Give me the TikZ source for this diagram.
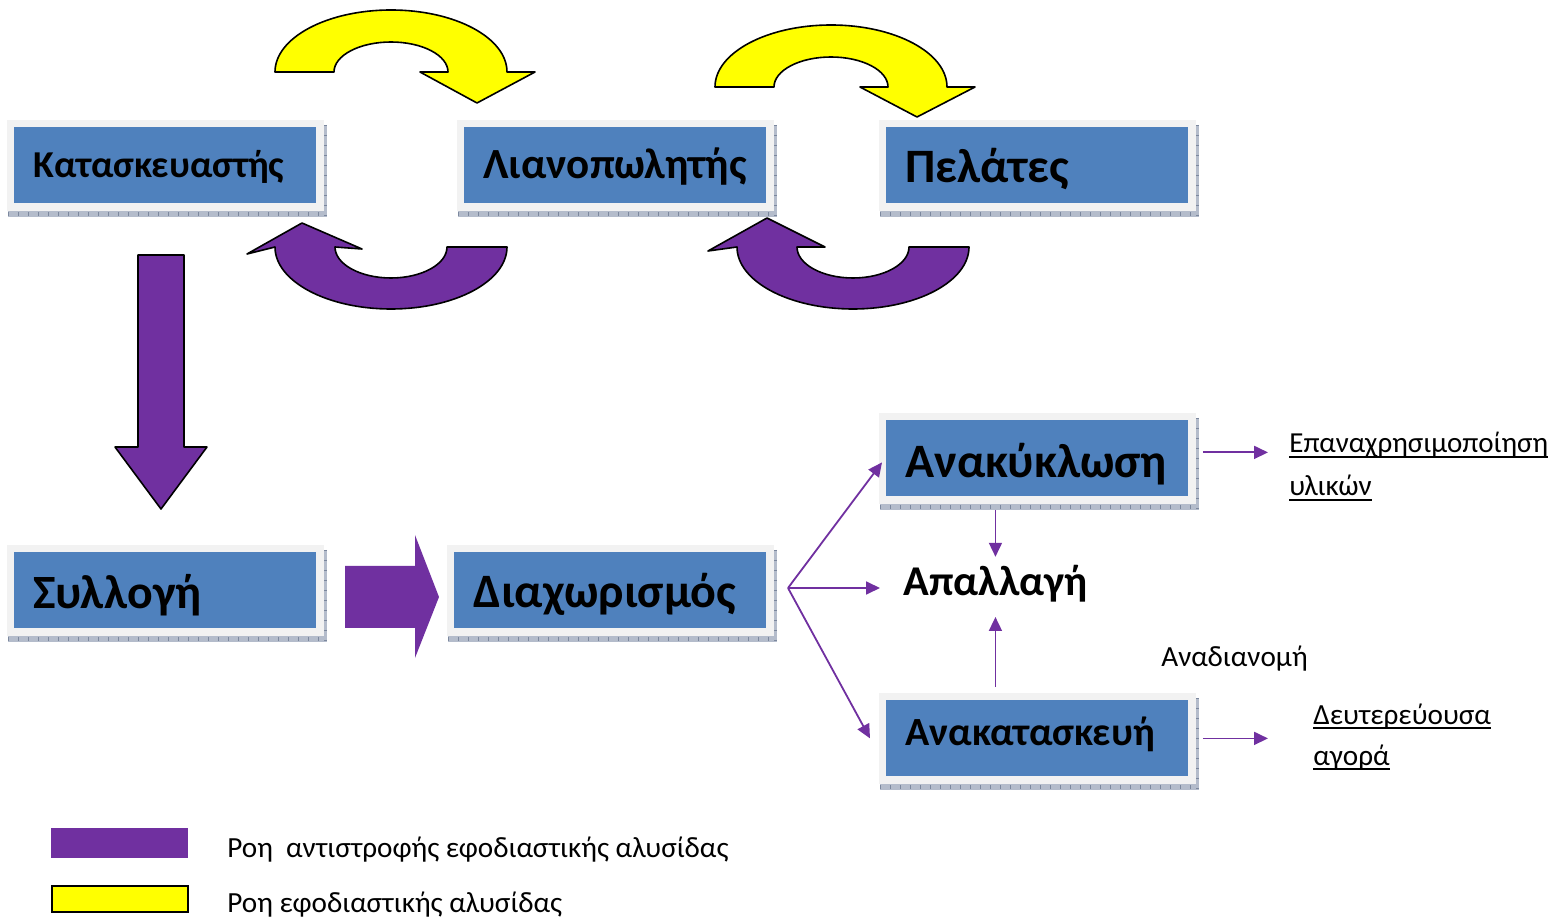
\documentclass[tikz,border=0pt]{standalone}
\usepackage{fontspec}
\setmainfont{Carlito}
\usetikzlibrary{arrows.meta,calc,backgrounds}
\definecolor{boxblue}{HTML}{4F81BD}
\definecolor{flowpurple}{HTML}{7030A0}
\definecolor{flowyellow}{HTML}{FFFF00}
\definecolor{framegrey}{HTML}{F2F2F2}
\definecolor{shadowc}{HTML}{B4BCCB}
\definecolor{shadowline}{HTML}{7C889E}
\newcommand\boxdecor[1]{%
\begin{pgfonlayer}{background}
\fill[shadowc] ([xshift=-3pt,yshift=1pt]#1.north west) rectangle ([xshift=5pt,yshift=-6.5pt]#1.south east);
\draw[shadowline,line width=2pt,dash pattern=on 0.5pt off 4.5pt] ([xshift=-3pt,yshift=-5pt]#1.south west) -- ([xshift=5pt,yshift=-5pt]#1.south east);
\draw[shadowline,line width=1.2pt,dash pattern=on 0.5pt off 4.5pt] ([xshift=4.4pt,yshift=1pt]#1.north east) -- ([xshift=4.4pt,yshift=-6.5pt]#1.south east);
\fill[framegrey] ([xshift=-3.5pt,yshift=3.5pt]#1.north west) rectangle ([xshift=3.5pt,yshift=-3.5pt]#1.south east);
\end{pgfonlayer}}
\newcommand\ulx[1]{\setbox0=\hbox{#1}\rlap{\rule[-2.6pt]{\wd0}{0.9pt}}\box0}
\tikzset{
  blbox/.style={fill=boxblue, anchor=north west, inner xsep=9.5pt, inner ysep=0pt,
    text width=132pt, align=left},
  curved/.style={draw=black, line width=0.8pt, line join=round},
  tarrow/.style={draw=flowpurple, line width=0.9pt, -{Triangle[length=7pt,width=6.5pt]}},
  plain/.style={inner sep=0pt, anchor=base west, font=\fontsize{14.6}{18}\selectfont},
}
\begin{document}
\begin{tikzpicture}[x=0.5pt,y=-0.5pt]
\useasboundingbox (0,0) rectangle (1554,919);
% boxes
\node[blbox, text height=25pt, text depth=13pt, font=\fontsize{19}{22}\selectfont\bfseries] (kat) at (14,127) {Κατασκευαστής};
\node[blbox, text height=25.5pt, text depth=12.5pt, font=\fontsize{21.5}{25}\selectfont\bfseries] (lian) at (464,127) {Λιανοπωλητής};
\node[blbox, text height=27.5pt, text depth=10.5pt, font=\fontsize{24}{28}\selectfont\bfseries] (pel) at (886,127) {Πελάτες};
\node[blbox, text height=28.5pt, text depth=9.5pt, font=\fontsize{24}{28}\selectfont\bfseries] (anak) at (886,420) {Ανακύκλωση};
\node[blbox, text height=28pt, text depth=10pt, font=\fontsize{23.9}{27}\selectfont\bfseries] (syl) at (14,552) {Συλλογή};
\node[blbox, text width=137pt, text height=27.5pt, text depth=10.5pt, font=\fontsize{24}{28}\selectfont\bfseries] (diax) at (454,552) {Διαχωρισμός};
\node[blbox, text height=22.5pt, text depth=15.5pt, font=\fontsize{20}{23}\selectfont\bfseries] (anakat) at (886,700) {Ανακατασκευή};
\boxdecor{kat}\boxdecor{lian}\boxdecor{pel}\boxdecor{anak}\boxdecor{syl}\boxdecor{diax}\boxdecor{anakat}
% texts
\node[inner sep=0pt, anchor=base west, font=\fontsize{21.2}{25}\selectfont\bfseries] (apal) at (903,596) {Απαλλαγή};
\node[plain] (anad) at (1161,667) {Αναδιανομή};
\node[plain, font=\fontsize{14.5}{18}\selectfont] (epan1) at (1289,453) {\ulx{Επαναχρησιμοποίηση}};
\node[plain] (epan2) at (1289,496) {\ulx{υλικών}};
\node[plain] (deut1) at (1313,724) {\ulx{Δευτερεύουσα}};
\node[plain] (deut2) at (1313,765) {\ulx{αγορά}};
% curved arrows
\filldraw[curved, fill=flowyellow] (275,72) arc[start angle=180,end angle=360,x radius=116,y radius=62] -- (535,72) -- (477,103) -- (420,72) -- (448,72) arc[start angle=0,end angle=-180,x radius=57,y radius=30] -- cycle;
\filldraw[curved, fill=flowyellow] (715,87) arc[start angle=180,end angle=360,x radius=116,y radius=62] -- (975,87) -- (917,117) -- (860,87) -- (888,87) arc[start angle=0,end angle=-180,x radius=57,y radius=30] -- cycle;
\filldraw[curved, fill=flowpurple] (507,247) arc[start angle=0,end angle=180,x radius=116,y radius=62] -- (247,254) -- (302,223) -- (362,249) -- (335,247) arc[start angle=180,end angle=0,x radius=56,y radius=31] -- cycle;
\filldraw[curved, fill=flowpurple] (969,247) arc[start angle=0,end angle=180,x radius=116,y radius=62] -- (708,251) -- (767,218) -- (825,247) -- (797,247) arc[start angle=180,end angle=0,x radius=56,y radius=31] -- cycle;
% block arrows
\filldraw[curved, fill=flowpurple] (138,255) -- (184,255) -- (184,447) -- (207,447) -- (161,509) -- (115,447) -- (138,447) -- cycle;
\fill[flowpurple] (345,566) -- (415,566) -- (415,535) -- (439,597) -- (415,658) -- (415,628) -- (345,628) -- cycle;
% thin arrows
\coordinate (br) at (788,588);
\draw[tarrow] (br) -- ($(anak.west)+(-2pt,-2pt)$);
\draw[tarrow] (br) -- ($(apal.west |- br)+(-11.5pt,0)$);
\draw[tarrow] (br) -- ($(anakat.west)+(-8pt,0)$);
\draw[tarrow] ($(apal.north |- anak.south)+(0,-6.5pt)$) -- ($(apal.north |- anak.south)+(0,-30pt)$);
\draw[tarrow] ($(apal.south |- anakat.north)+(0,6.5pt)$) -- ($(apal.south |- anakat.north)+(0,41.5pt)$);
\draw[tarrow] ($(anak.east)+(7pt,3pt)$) -- ($(epan1.west |- anak.east)+(-10.5pt,3pt)$);
\draw[tarrow] ($(anakat.east)+(7pt,0)$) -- ($(deut1.west |- anakat.east)+(-22.5pt,0)$);
% legend
\fill[flowpurple] (51,828) rectangle (188,858);
\filldraw[fill=flowyellow, draw=black, line width=1pt] (52,886) rectangle (188,912);
\node[plain] (leg1) at (227,857) {Ροη\ \ αντιστροφής εφοδιαστικής αλυσίδας};
\node[plain] (leg2) at (227,912) {Ροη εφοδιαστικής αλυσίδας};
\end{tikzpicture}
\end{document}
